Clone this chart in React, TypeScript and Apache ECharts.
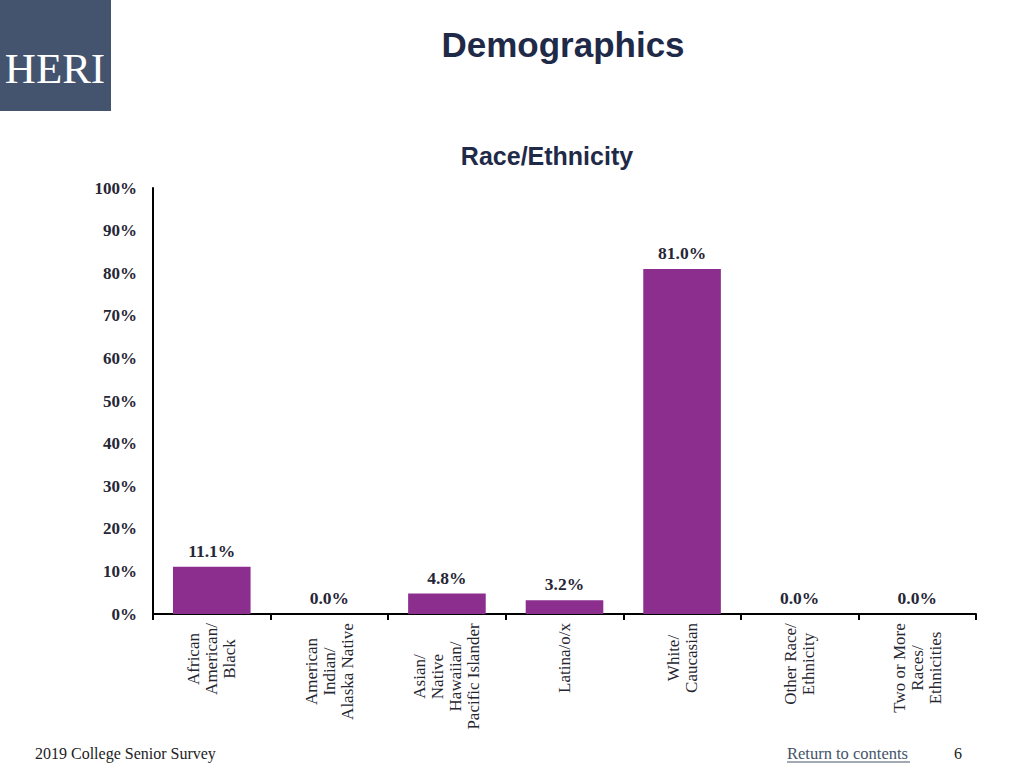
import React, { useEffect, useRef } from "react";
import * as echarts from "echarts";

const categories: string[][] = [
  ["African", "American/", "Black"],
  ["American", "Indian/", "Alaska Native"],
  ["Asian/", "Native", "Hawaiian/", "Pacific Islander"],
  ["Latina/o/x"],
  ["White/", "Caucasian"],
  ["Other Race/", "Ethnicity"],
  ["Two or More", "Races/", "Ethnicities"],
];
const values: number[] = [11.1, 0.0, 4.8, 3.2, 81.0, 0.0, 0.0];
const yTicks = { min: 0, max: 100, interval: 10 };

const SERIF = "'Liberation Serif', 'Times New Roman', serif";
const SANS = "'Liberation Sans', Arial, sans-serif";
const CAT_FONT_SIZE = 17;

function measure(text: string): number {
  const c = document.createElement("canvas").getContext("2d");
  if (!c) return text.length * 8;
  c.font = `${CAT_FONT_SIZE}px ${SERIF}`;
  return c.measureText(text).width;
}

export default function App() {
  const ref = useRef<HTMLDivElement>(null);
  useEffect(() => {
    if (!ref.current) return;
    const chart = echarts.init(ref.current, null, { renderer: "svg" });
    const rich: Record<string, any> = {};
    const catNames = categories.map((lines, i) => {
      const w = Math.ceil(Math.max(...lines.map(measure)));
      rich["c" + i] = {
        width: w,
        align: "center",
        fontSize: CAT_FONT_SIZE,
        lineHeight: 18,
        fontFamily: SERIF,
        color: "#262630",
      };
      return lines.map((l) => `{c${i}|${l}}`).join("\n");
    });
    chart.setOption({
      animation: false,
      backgroundColor: "#ffffff",
      grid: { left: 153, right: 48, top: 188, bottom: 154, containLabel: false },
      xAxis: {
        type: "category",
        data: catNames,
        axisLine: { show: true, lineStyle: { color: "#000", width: 2 } },
        axisTick: { show: true, length: 6, lineStyle: { color: "#000", width: 2 } },
        axisLabel: {
          rotate: 90,
          interval: 0,
          margin: 9,
          rich,
          fontFamily: SERIF,
          fontSize: CAT_FONT_SIZE,
          color: "#262630",
        },
      },
      yAxis: {
        type: "value",
        min: yTicks.min,
        max: yTicks.max,
        interval: yTicks.interval,
        axisLine: { show: true, lineStyle: { color: "#000", width: 2 } },
        axisTick: { show: false },
        splitLine: { show: false },
        axisLabel: {
          formatter: "{value}%",
          margin: 16,
          fontFamily: SERIF,
          fontWeight: "bold",
          fontSize: 17,
          color: "#262636",
        },
      },
      series: [
        {
          type: "bar",
          data: values,
          barWidth: "66%",
          itemStyle: { color: "#8B2E8E" },
          label: {
            show: true,
            position: "top",
            distance: 7,
            formatter: (p: any) => p.value.toFixed(1) + "%",
            fontFamily: SERIF,
            fontWeight: "bold",
            fontSize: 17.5,
            color: "#262636",
          },
        },
      ],
      graphic: [
        { type: "rect", left: 0, top: 0, shape: { width: 111, height: 111 }, style: { fill: "#44546F" } },
        {
          type: "text",
          x: 55,
          y: 68,
          style: {
            text: "HERI",
            fill: "#ffffff",
            font: `43px ${SERIF}`,
            align: "center",
            verticalAlign: "middle",
          },
        },
        {
          type: "text",
          x: 563,
          y: 44,
          style: {
            text: "Demographics",
            fill: "#1F2A48",
            font: `bold 35px ${SANS}`,
            align: "center",
            verticalAlign: "middle",
          },
        },
        {
          type: "text",
          x: 547,
          y: 156,
          style: {
            text: "Race/Ethnicity",
            fill: "#1F2A48",
            font: `bold 25px ${SANS}`,
            align: "center",
            verticalAlign: "middle",
          },
        },
        {
          type: "text",
          x: 35,
          y: 753,
          style: {
            text: "2019 College Senior Survey",
            fill: "#222222",
            font: `16px ${SERIF}`,
            align: "left",
            verticalAlign: "middle",
          },
        },
        {
          type: "text",
          x: 787,
          y: 753,
          style: {
            text: "Return to contents",
            fill: "#44546A",
            font: `16.5px ${SERIF}`,
            align: "left",
            verticalAlign: "middle",
          },
        },
        {
          type: "line",
          shape: { x1: 787, y1: 762, x2: 910, y2: 762 },
          style: { stroke: "#44546A", lineWidth: 1 },
        },
        {
          type: "text",
          x: 958,
          y: 753,
          style: {
            text: "6",
            fill: "#222222",
            font: `16px ${SERIF}`,
            align: "center",
            verticalAlign: "middle",
          },
        },
      ],
    });
    return () => chart.dispose();
  }, []);
  return (
    <div
      ref={ref}
      style={{ position: "fixed", left: 0, top: 0, width: 1024, height: 768 }}
    />
  );
}
